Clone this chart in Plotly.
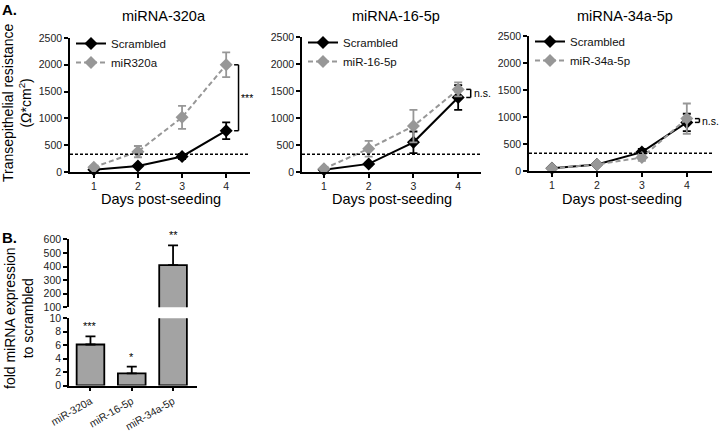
import plotly.graph_objects as go

W, H = 720, 436
def px(x): return x / W
def py(y): return 1 - y / H

days = [1, 2, 3, 4]

# Panel 1: miRNA-320a
p1_scr = [40, 110, 290, 770]
p1_scr_err = [10, 20, 50, 155]
p1_mir = [90, 380, 1020, 2000]
p1_mir_err = [20, 105, 215, 230]

# Panel 2: miRNA-16-5p
p2_scr = [40, 150, 550, 1380]
p2_scr_err = [10, 25, 200, 230]
p2_mir = [60, 430, 850, 1530]
p2_mir_err = [10, 145, 300, 130]

# Panel 3: miRNA-34a-5p
p3_scr = [50, 120, 350, 900]
p3_scr_err = [10, 15, 60, 160]
p3_mir = [50, 120, 250, 970]
p3_mir_err = [10, 15, 60, 280]

threshold = 330

panel_titles = ["miRNA-320a", "miRNA-16-5p", "miRNA-34a-5p"]
mir_names = ["miR320a", "miR-16-5p", "miR-34a-5p"]
sig_labels = ["***", "n.s.", "n.s."]

# Panel B
bar_cats = ["miR-320a", "miR-16-5p", "miR-34a-5p"]
bar_vals = [6.1, 1.8, 410]
bar_err = [1.2, 1.0, 145]
bar_stars = ["***", "*", "**"]

FONT = "Liberation Sans, Arial, sans-serif"
BLACK = "#000000"
GREY = "#979797"
TICKC = "#222222"

fig = go.Figure()

panels = [
    dict(x0=70, x1=250, yb=172, yt=38, xr=[0.46, 4.54]),
    dict(x0=302, x1=481, yb=172, yt=37, xr=[0.51, 4.51]),
    dict(x0=529, x1=712, yb=171, yt=36, xr=[0.49, 4.56]),
]
data = [
    (p1_scr, p1_scr_err, p1_mir, p1_mir_err),
    (p2_scr, p2_scr_err, p2_mir, p2_mir_err),
    (p3_scr, p3_scr_err, p3_mir, p3_mir_err),
]

common_tick = dict(showline=True, linecolor=BLACK, linewidth=1.5, ticks="outside",
                   ticklen=4, tickwidth=1.5, tickcolor=BLACK, showgrid=False,
                   zeroline=False, automargin=False,
                   tickfont=dict(family=FONT, size=10.5, color=TICKC))

layout = {}
annotations = []
shapes = []

for i, (pan, (scr, scre, mir, mire)) in enumerate(zip(panels, data)):
    n = i + 1
    xa = "x" if n == 1 else f"x{n}"
    ya = "y" if n == 1 else f"y{n}"
    leg = "legend" if n == 1 else f"legend{n}"
    fig.add_trace(go.Scatter(
        x=days, y=scr, xaxis=xa, yaxis=ya, name="Scrambled", legend=leg,
        mode="lines+markers", cliponaxis=False,
        line=dict(color=BLACK, width=2),
        marker=dict(symbol="diamond", size=10, color=BLACK),
        error_y=dict(type="data", array=scre, color=BLACK, thickness=1.8, width=4),
    ))
    fig.add_trace(go.Scatter(
        x=days, y=mir, xaxis=xa, yaxis=ya, name=mir_names[i], legend=leg,
        mode="lines+markers", cliponaxis=False,
        line=dict(color=GREY, width=2, dash="5px,3px"),
        marker=dict(symbol="diamond", size=10, color=GREY),
        error_y=dict(type="data", array=mire, color=GREY, thickness=1.8, width=4),
    ))
    axk = "xaxis" if n == 1 else f"xaxis{n}"
    ayk = "yaxis" if n == 1 else f"yaxis{n}"
    layout[axk] = dict(domain=[px(pan["x0"]), px(pan["x1"])], range=pan["xr"],
                       anchor=ya, tickvals=days, **common_tick)
    layout[ayk] = dict(domain=[py(pan["yb"]), py(pan["yt"])], range=[0, 2500],
                       anchor=xa, dtick=500, **common_tick)
    layout[leg] = dict(
        x=px(pan["x0"] + 1), y=py(pan["yt"] - 9), xanchor="left", yanchor="top",
        bgcolor="rgba(0,0,0,0)", font=dict(family=FONT, size=11.5, color="#111"),
        tracegroupgap=0, itemwidth=30,
    )
    shapes.append(dict(type="line", xref=f"{xa} domain", yref=ya, x0=0, x1=1,
                       y0=threshold, y1=threshold,
                       line=dict(color=BLACK, width=1.5, dash="3px,2px")))
    bx = 4.28
    lo, hi = scr[3], mir[3]
    if lo > hi:
        lo, hi = hi, lo
    tickw = 0.1
    for yy in (lo, hi):
        shapes.append(dict(type="line", xref=xa, yref=ya, x0=bx - tickw, x1=bx,
                           y0=yy, y1=yy, line=dict(color=BLACK, width=1.5)))
    shapes.append(dict(type="line", xref=xa, yref=ya, x0=bx, x1=bx,
                       y0=lo, y1=hi, line=dict(color=BLACK, width=1.5)))
    annotations.append(dict(xref=xa, yref=ya, x=bx + 0.02, y=(lo + hi) / 2,
                            text=sig_labels[i], showarrow=False, xanchor="left",
                            yanchor="middle",
                            font=dict(family=FONT, size=10.5, color=BLACK)))
    annotations.append(dict(xref="paper", yref="paper",
                            x=px((pan["x0"] + pan["x1"]) / 2 + 4), y=py(16),
                            text=panel_titles[i], showarrow=False,
                            xanchor="center", yanchor="middle",
                            font=dict(family=FONT, size=14.5, color=BLACK)))
    annotations.append(dict(xref="paper", yref="paper",
                            x=px((pan["x0"] + pan["x1"]) / 2 + 1), y=py(199),
                            text="Days post-seeding", showarrow=False,
                            xanchor="center", yanchor="middle",
                            font=dict(family=FONT, size=14.5, color=BLACK)))

annotations.append(dict(xref="paper", yref="paper", x=px(17), y=py(103),
                        text="Transepithelial resistance<br>(Ω*cm<sup>2</sup>)",
                        showarrow=False, textangle=-90, xanchor="center",
                        yanchor="middle",
                        font=dict(family=FONT, size=14, color=BLACK)))
annotations.append(dict(xref="paper", yref="paper", x=0, y=py(10), text="<b>A.</b>",
                        showarrow=False, xanchor="left", yanchor="middle",
                        font=dict(family=FONT, size=15, color=BLACK)))
annotations.append(dict(xref="paper", yref="paper", x=0, y=py(237), text="<b>B.</b>",
                        showarrow=False, xanchor="left", yanchor="middle",
                        font=dict(family=FONT, size=15, color=BLACK)))

bar_x = [0, 1, 2]
for xa, ya in (("x4", "y4"), ("x5", "y5")):
    fig.add_trace(go.Bar(
        x=bar_x, y=bar_vals, xaxis=xa, yaxis=ya, width=0.67, showlegend=False,
        marker=dict(color="#a3a3a3", line=dict(color=BLACK, width=1.8)),
        error_y=dict(type="data", symmetric=False, array=bar_err,
                     arrayminus=[0, 0, 0], color=BLACK, thickness=1.8, width=5),
    ))

layout["xaxis4"] = dict(domain=[px(69), px(197)], range=[-0.52, 2.58], anchor="y4",
                        tickvals=bar_x, ticktext=bar_cats, tickangle=-30, **common_tick)
layout["xaxis5"] = dict(domain=[px(69), px(197)], range=[-0.52, 2.58], anchor="y5",
                        matches="x4", visible=False, automargin=False)
layout["yaxis4"] = dict(domain=[py(385.5), py(318.3)], range=[0, 10], dtick=2,
                        anchor="x4", **common_tick)
layout["yaxis5"] = dict(domain=[py(307.3), py(239.3)], range=[100, 600], dtick=100,
                        anchor="x5", **common_tick)

annotations.append(dict(xref="paper", yref="paper", x=px(19), y=py(318),
                        text="fold miRNA expression<br>to scrambled",
                        showarrow=False, textangle=-90, xanchor="center",
                        yanchor="middle",
                        font=dict(family=FONT, size=14, color=BLACK)))
for i in range(2):
    annotations.append(dict(xref="x4", yref="y4", x=bar_x[i],
                            y=bar_vals[i] + bar_err[i] + 0.3, text=bar_stars[i],
                            showarrow=False, xanchor="center", yanchor="bottom",
                            font=dict(family=FONT, size=11, color=BLACK)))
annotations.append(dict(xref="x5", yref="y5", x=bar_x[2],
                        y=bar_vals[2] + bar_err[2] + 15, text=bar_stars[2],
                        showarrow=False, xanchor="center", yanchor="bottom",
                        font=dict(family=FONT, size=11, color=BLACK)))

fig.update_layout(
    template="none",
    width=W, height=H, autosize=False,
    margin=dict(l=0, r=0, t=0, b=0, autoexpand=False),
    paper_bgcolor="white", plot_bgcolor="white",
    font=dict(family=FONT, color=BLACK),
    annotations=annotations, shapes=shapes, bargap=0.3,
    **layout,
)

fig.write_html("out.html", config={"displayModeBar": False},
               post_script="document.body.style.margin='0';document.body.style.overflow='hidden';")
